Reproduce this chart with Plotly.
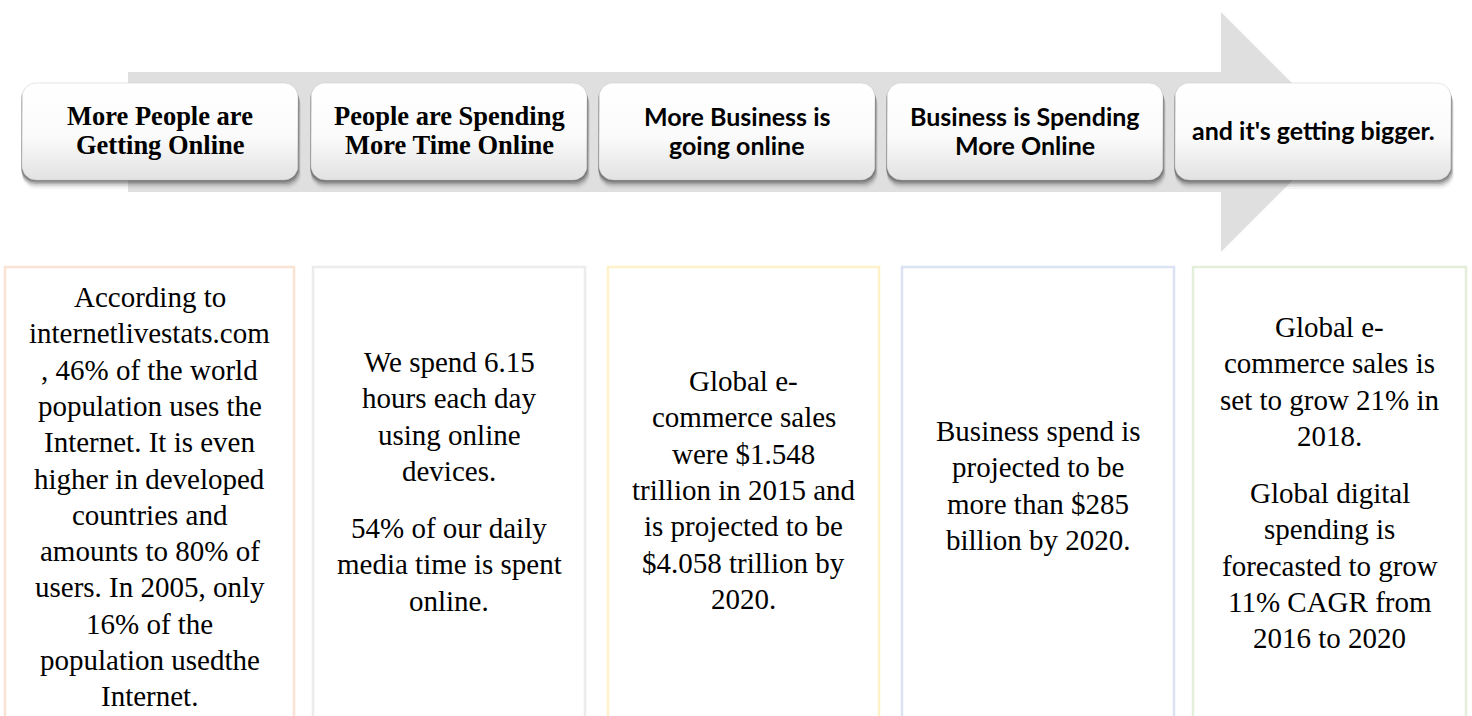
import numpy as np
import plotly.graph_objects as go

W, H = 1472, 716

SERIF = "Liberation Serif, Times New Roman, Tinos, serif"
SANS = "Lato, Carlito, Calibri, sans-serif"

# ---- content -------------------------------------------------------------
stage_titles = [
    ["More People are", "Getting Online"],
    ["People are Spending", "More Time Online"],
    ["More Business is", "going online"],
    ["Business is Spending", "More Online"],
    ["and it's getting bigger."],
]
stage_title_font = [SERIF, SERIF, SANS, SANS, SANS]

detail_paragraphs = [
    [["According to", "internetlivestats.com", ", 46% of the world",
      "population uses the", "Internet. It is even", "higher in developed",
      "countries and", "amounts to 80% of", "users. In 2005, only",
      "16% of the", "population usedthe", "Internet."]],
    [["We spend 6.15", "hours each day", "using online", "devices."],
     ["54% of our daily", "media time is spent", "online."]],
    [["Global e-", "commerce sales", "were $1.548", "trillion in 2015 and",
      "is projected to be", "$4.058 trillion by", "2020."]],
    [["Business spend is", "projected to be", "more than $285", "billion by 2020."]],
    [["Global e-", "commerce sales is", "set to grow 21% in", "2018."],
     ["Global digital", "spending is", "forecasted to grow", "11% CAGR from",
      "2016 to 2020"]],
]
detail_border_colors = ["#fbe3d4", "#ececec", "#fff1c9", "#dae2f4", "#e3efda"]

# ---- layout geometry (pixels) ----------------------------------------------
arrow_body = dict(x0=128, x1=1221, y0=72, y1=192)
arrow_head = dict(x=1221, y0=12, y1=252, tip_x=1341)
arrow_color = "#dfdfdf"

head_lefts = [22, 311, 599, 887, 1175]
head_w, head_top, head_bot, head_r = 276, 83, 180, 14
title_line_y = [116, 145]
title_single_y = 130
title_size = [26.5, 26.5, 25, 25, 25]

detail_x = [(5, 294), (313, 585), (608, 879), (902, 1174), (1193, 1466)]
detail_top = 267
detail_first_y = [297, 362, 381, 431, 327]
line_gap = 36.3
para_gap = 20.7
body_size = 29


def rounded_rect(x0, y0, x1, y1, r, n=10):
    xs, ys = [], []
    corners = [(x1 - r, y0 + r, -np.pi / 2, 0),
               (x1 - r, y1 - r, 0, np.pi / 2),
               (x0 + r, y1 - r, np.pi / 2, np.pi),
               (x0 + r, y0 + r, np.pi, 1.5 * np.pi)]
    for cx, cy, a0, a1 in corners:
        t = np.linspace(a0, a1, n)
        xs.extend(cx + r * np.cos(t))
        ys.extend(cy + r * np.sin(t))
    xs.append(xs[0])
    ys.append(ys[0])
    return xs, ys


fig = go.Figure()

# big arrow
ax = [arrow_body["x0"], arrow_head["x"], arrow_head["x"], arrow_head["tip_x"],
      arrow_head["x"], arrow_head["x"], arrow_body["x0"], arrow_body["x0"]]
ay = [arrow_body["y0"], arrow_body["y0"], arrow_head["y0"],
      (arrow_head["y0"] + arrow_head["y1"]) / 2, arrow_head["y1"],
      arrow_body["y1"], arrow_body["y1"], arrow_body["y0"]]
fig.add_trace(go.Scatter(x=ax, y=ay, fill="toself", fillcolor=arrow_color,
                         mode="lines", line=dict(width=0), hoverinfo="skip"))

# header boxes with soft shadow and gradient
for i, x0 in enumerate(head_lefts):
    x1 = x0 + head_w
    for k, (dx, dy, a) in enumerate([(3, 9, 0.05), (2.5, 7, 0.08), (2, 5.5, 0.12),
                                     (1.5, 4, 0.17), (1, 2.5, 0.22), (0.5, 1.2, 0.25)]):
        sx, sy = rounded_rect(x0 - 1 + dx * 0.3, head_top + dy, x1 + dx, head_bot + dy, head_r)
        fig.add_trace(go.Scatter(x=sx, y=sy, fill="toself",
                                 fillcolor=f"rgba(50,50,50,{a})", mode="lines",
                                 line=dict(width=0), hoverinfo="skip"))
    bx, by = rounded_rect(x0, head_top, x1, head_bot, head_r)
    fig.add_trace(go.Scatter(
        x=bx, y=by, fill="toself", mode="lines",
        line=dict(width=0.6, color="rgba(200,200,200,0.8)"),
        fillgradient=dict(type="vertical", start=head_top, stop=head_bot,
                          colorscale=[[0, "#ffffff"], [0.55, "#fbfbfb"], [1, "#e2e2e2"]]),
        hoverinfo="skip"))

annotations = []
shapes = []

for i, lines in enumerate(stage_titles):
    cx = head_lefts[i] + head_w / 2
    ys = title_line_y if len(lines) > 1 else [title_single_y]
    for txt, y in zip(lines, ys):
        annotations.append(dict(
            x=cx, y=y, text=f"<b>{txt}</b>", showarrow=False,
            xanchor="center", yanchor="middle",
            font=dict(family=stage_title_font[i], size=title_size[i], color="black")))

# detail boxes
for i, (x0, x1) in enumerate(detail_x):
    shapes.append(dict(type="rect", x0=x0, x1=x1, y0=detail_top, y1=H + 20,
                       line=dict(color=detail_border_colors[i], width=2.5),
                       fillcolor="rgba(0,0,0,0)", layer="above"))
    cx = (x0 + x1) / 2
    y = detail_first_y[i]
    for p, para in enumerate(detail_paragraphs[i]):
        if p > 0:
            y += para_gap
        for txt in para:
            annotations.append(dict(
                x=cx, y=y, text=txt, showarrow=False,
                xanchor="center", yanchor="middle",
                font=dict(family=SERIF, size=body_size, color="black")))
            y += line_gap

fig.update_layout(
    width=W, height=H, autosize=False,
    margin=dict(l=0, r=0, t=0, b=0),
    paper_bgcolor="white", plot_bgcolor="white",
    showlegend=False,
    xaxis=dict(range=[0, W], visible=False, fixedrange=True),
    yaxis=dict(range=[H, 0], visible=False, fixedrange=True),
    annotations=annotations, shapes=shapes,
)

fig.write_html("out.html", post_script="document.body.style.margin='0';document.body.style.overflow='hidden';",
               config={"displayModeBar": False})
